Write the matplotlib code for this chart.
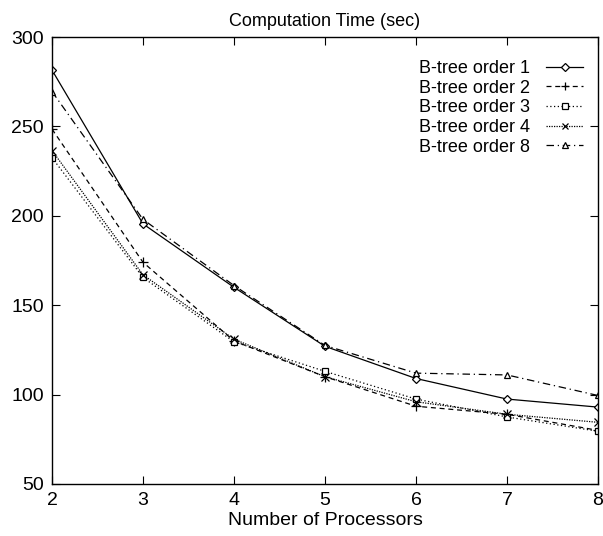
import matplotlib
matplotlib.use("Agg")
import matplotlib.pyplot as plt

plt.rcParams['font.family'] = ['Liberation Sans', 'DejaVu Sans']

processors = [2, 3, 4, 5, 6, 7, 8]
order1 = [281.5, 195.5, 160, 127, 109, 97.5, 93]
order2 = [248.5, 174, 130, 110, 93.5, 89, 80]
order3 = [232.5, 165.5, 129.5, 113, 97.5, 87.5, 79.5]
order4 = [236.5, 167, 131, 110, 96, 89, 84.5]
order8 = [269.5, 198, 161, 127.5, 112, 111, 99.5]
labels = ["B-tree order 1", "B-tree order 2", "B-tree order 3", "B-tree order 4", "B-tree order 8"]

fig = plt.figure(figsize=(6.03, 5.36), dpi=100)
ax = fig.add_axes([52/603, 1-484/536, (598-52)/603, (484-37)/536])

styles = [
    dict(ls='-', marker='D', ms=4.5),
    dict(ls=(0, (4, 3)), marker='+', ms=7),
    dict(ls=(0, (1, 2)), marker='s', ms=5),
    dict(ls=(0, (1, 1)), marker='x', ms=6),
    dict(ls=(0, (6, 3, 1, 3)), marker='^', ms=5),
]
for ys, lab, st in zip([order1, order2, order3, order4, order8], labels, styles):
    ax.plot(processors, ys, color='black', lw=0.9, mfc='white', mec='black',
            mew=0.9, label=lab, **st)

ax.set_xlim(2, 8)
ax.set_ylim(50, 300)
ax.set_xticks(processors)
ax.set_yticks([50, 100, 150, 200, 250, 300])
ax.tick_params(direction='in', top=True, right=True, length=6, labelsize=14, pad=6)
for s in ax.spines.values():
    s.set_linewidth(1.0)
ax.set_title("Computation Time (sec)", fontsize=13, pad=8)
ax.set_xlabel("Number of Processors", fontsize=14, labelpad=2)

leg = ax.legend(loc='upper right', bbox_to_anchor=(0.985, 0.965), frameon=False,
                markerfirst=False, fontsize=13, handlelength=2.0, handletextpad=0.9,
                labelspacing=0.15, borderaxespad=0, markerscale=0.8)
for t in leg.get_texts():
    t.set_ha('right')

fig.savefig("out.png", dpi=100)
